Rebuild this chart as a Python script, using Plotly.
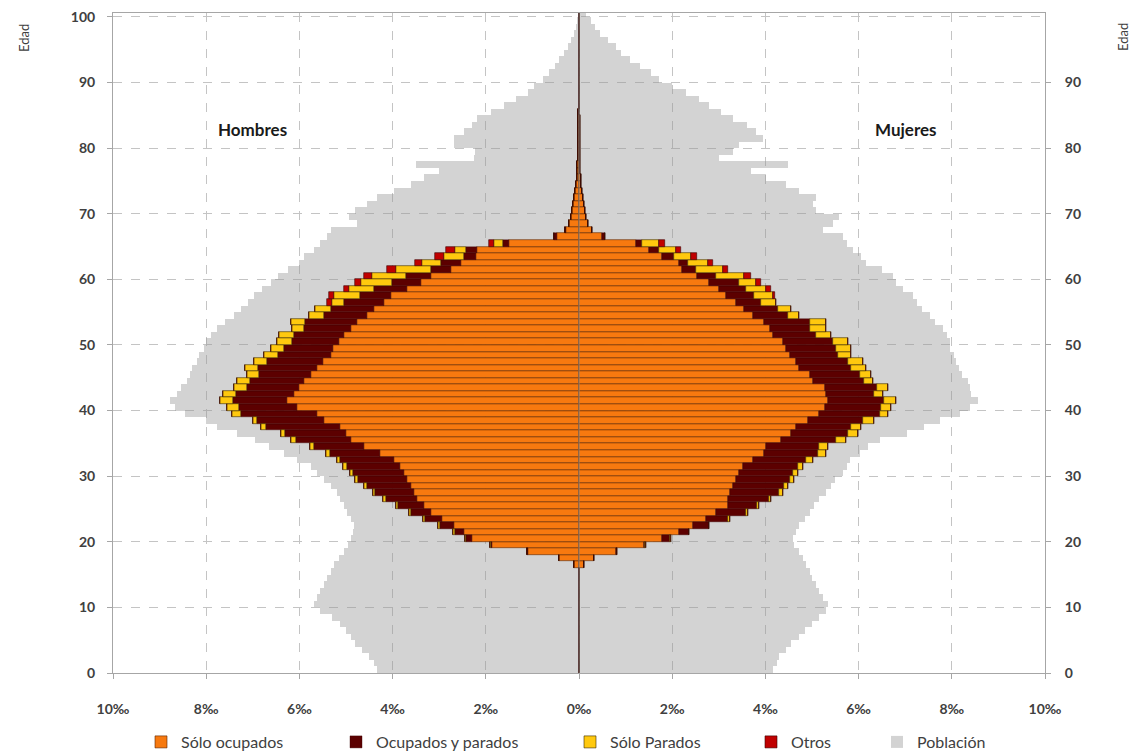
import plotly.graph_objects as go

ages = list(range(0, 101))

# Población (‰) por edad, 0..100
pob_h = [
    4.33, 4.40, 4.50, 4.65, 4.80, 4.90, 5.00, 5.12, 5.30, 5.55,
    5.69, 5.62, 5.55, 5.48, 5.40, 5.33, 5.26, 5.15, 5.05, 4.95,
    4.90, 4.85, 4.83, 4.90, 4.97, 5.05, 5.12, 5.20, 5.33, 5.48,
    5.62, 5.76, 6.05, 6.34, 6.65, 6.95, 7.34, 7.77, 8.00, 8.45,
    8.67, 8.77, 8.63, 8.55, 8.42, 8.35, 8.30, 8.20, 8.15, 8.05,
    8.00, 7.90, 7.77, 7.60, 7.41, 7.25, 7.10, 6.98, 6.80, 6.60,
    6.45, 6.25, 6.00, 5.90, 5.69, 5.55, 5.40, 5.33, 4.76, 4.94,
    4.80, 4.55, 4.33, 3.97, 3.60, 3.33, 3.00, 3.50, 2.25, 2.24,
    2.68, 2.68, 2.47, 2.30, 2.18, 1.89, 1.60, 1.35, 1.10, 0.96,
    0.78, 0.65, 0.52, 0.42, 0.32, 0.24, 0.17, 0.11, 0.07, 0.04,
    0.02]
pob_m = [
    4.16, 4.25, 4.30, 4.45, 4.55, 4.73, 4.85, 5.00, 5.16, 5.30,
    5.34, 5.23, 5.15, 5.09, 5.00, 4.95, 4.87, 4.80, 4.73, 4.62,
    4.59, 4.66, 4.73, 4.85, 4.95, 5.05, 5.16, 5.30, 5.40, 5.50,
    5.66, 5.75, 5.81, 6.02, 6.20, 6.45, 7.03, 7.40, 7.74, 8.17,
    8.39, 8.57, 8.42, 8.38, 8.35, 8.21, 8.15, 8.10, 8.05, 7.96,
    7.96, 7.90, 7.81, 7.65, 7.53, 7.35, 7.25, 7.17, 6.95, 6.80,
    6.74, 6.50, 6.16, 6.05, 5.88, 5.75, 5.66, 5.23, 5.45, 5.59,
    5.09, 5.02, 5.09, 4.73, 4.44, 4.01, 3.69, 4.48, 3.01, 3.30,
    3.44, 3.94, 3.80, 3.60, 3.30, 3.05, 2.80, 2.58, 2.30, 2.00,
    1.72, 1.55, 1.30, 1.10, 0.90, 0.79, 0.62, 0.45, 0.35, 0.25,
    0.14]

# Hombres
ocup_h = [0]*16 + [
    0.11, 0.43, 1.10, 1.86,
    2.29, 2.47, 2.68, 2.95, 3.18, 3.33, 3.47, 3.55, 3.61, 3.70,
    3.76, 3.85, 3.97, 4.26, 4.62, 4.90, 5.00, 5.12, 5.48, 5.62,
    6.05, 6.27, 6.12, 6.00, 5.90, 5.76, 5.62, 5.50, 5.33, 5.28,
    5.15, 5.05, 4.90, 4.76, 4.55, 4.40, 4.19, 4.04, 3.69, 3.40,
    3.18, 2.75, 2.54, 2.22, 2.18, 1.50, 0.48, 0.28, 0.22, 0.18,
    0.15, 0.12, 0.10, 0.08, 0.06, 0.05, 0.04, 0.04, 0.03, 0.03,
    0.03, 0.02, 0.02, 0.02, 0.02, 0.02, 0.01, 0.01, 0.01, 0.01,
    0.01, 0.01, 0.01, 0.01, 0.01, 0.01, 0.005, 0.005, 0.005, 0.005,
    0.005]
ocup_par_h = [0]*16 + [
    0.00, 0.01, 0.02, 0.03,
    0.14, 0.20, 0.31, 0.35, 0.42, 0.55, 0.68, 0.82, 0.95, 1.04,
    1.08, 1.13, 1.15, 1.08, 1.06, 1.18, 1.30, 1.60, 1.42, 1.63,
    1.25, 1.15, 1.23, 1.12, 1.16, 1.10, 1.26, 1.20, 1.13, 1.04,
    1.00, 1.07, 1.01, 1.11, 0.93, 0.93, 0.86, 0.65, 0.71, 0.61,
    0.54, 0.43, 0.43, 0.25, 0.25, 0.14, 0.05, 0.02] + [0]*33
solo_par_h = [0]*19 + [
    0.01,
    0.02, 0.03, 0.03, 0.04, 0.04, 0.04, 0.05, 0.05, 0.06, 0.06,
    0.07, 0.08, 0.08, 0.08, 0.10, 0.10, 0.10, 0.10, 0.10, 0.20,
    0.26, 0.28, 0.28, 0.28, 0.28, 0.26, 0.28, 0.28, 0.30, 0.30,
    0.33, 0.32, 0.24, 0.32, 0.32, 0.33, 0.25, 0.56, 0.53, 0.67,
    0.72, 0.75, 0.39, 0.43, 0.23, 0.19] + [0]*35
otros_h = [0]*56 + [
    0.10, 0.12, 0.12, 0.12,
    0.18, 0.18, 0.15, 0.18, 0.20, 0.10] + [0]*35

# Mujeres
ocup_m = [0]*16 + [
    0.11, 0.32, 0.79, 1.40,
    1.79, 2.15, 2.44, 2.72, 2.94, 3.19, 3.19, 3.23, 3.30, 3.37,
    3.44, 3.51, 3.73, 3.98, 4.01, 4.34, 4.55, 4.66, 4.91, 5.16,
    5.27, 5.34, 5.30, 5.27, 5.02, 4.95, 4.73, 4.66, 4.52, 4.44,
    4.37, 4.16, 4.09, 3.98, 3.73, 3.55, 3.37, 3.15, 3.01, 2.80,
    2.54, 2.22, 2.15, 1.79, 1.51, 1.22, 0.50, 0.28, 0.20, 0.16,
    0.12, 0.10, 0.08, 0.06, 0.05, 0.04, 0.03, 0.03, 0.03, 0.03,
    0.02, 0.02, 0.02, 0.02, 0.02, 0.01, 0.01, 0.01, 0.01, 0.01,
    0.01, 0.01, 0.01, 0.01, 0.01, 0.01, 0.005, 0.005, 0.005, 0.005,
    0.005]
ocup_par_m = [0]*16 + [
    0.00, 0.01, 0.03, 0.02,
    0.17, 0.21, 0.34, 0.48, 0.64, 0.64, 0.88, 1.07, 1.10, 1.15,
    1.16, 1.19, 1.14, 1.14, 1.15, 1.18, 1.22, 1.18, 1.19, 1.29,
    1.21, 1.21, 1.04, 1.13, 1.10, 1.07, 1.11, 1.11, 1.03, 1.08,
    1.08, 0.93, 0.86, 0.97, 0.75, 0.72, 0.54, 0.61, 0.57, 0.64,
    0.40, 0.29, 0.18, 0.25, 0.21, 0.14, 0.05] + [0]*34
solo_par_m = [0]*19 + [
    0.01,
    0.01, 0.01, 0.02, 0.03, 0.04, 0.04, 0.05, 0.07, 0.08, 0.10,
    0.10, 0.10, 0.15, 0.18, 0.18, 0.21, 0.22, 0.22, 0.24, 0.18,
    0.22, 0.26, 0.18, 0.23, 0.19, 0.25, 0.32, 0.32, 0.29, 0.32,
    0.32, 0.32, 0.35, 0.35, 0.25, 0.28, 0.32, 0.40, 0.43, 0.36,
    0.61, 0.57, 0.43, 0.36, 0.36, 0.36] + [0]*35
otros_m = [0]*57 + [
    0.05, 0.11, 0.11,
    0.14, 0.11, 0.11, 0.14, 0.11, 0.13] + [0]*35

for arr in (pob_h, pob_m, ocup_h, ocup_par_h, solo_par_h, otros_h,
            ocup_m, ocup_par_m, solo_par_m, otros_m):
    assert len(arr) == 101, len(arr)

x_ticks = [-10, -8, -6, -4, -2, 0, 2, 4, 6, 8, 10]
x_labels = ["10‰", "8‰", "6‰", "4‰", "2‰", "0‰", "2‰", "4‰", "6‰", "8‰", "10‰"]
y_ticks_left = list(range(0, 101, 10))
y_ticks_right = list(range(0, 91, 10))

series = [
    ("Sólo ocupados", ocup_h, ocup_m, "#F7790F", "#5a2400", 0.6),
    ("Ocupados y parados", ocup_par_h, ocup_par_m, "#5C0000", "#3a0000", 0.4),
    ("Sólo Parados", solo_par_h, solo_par_m, "#FFC90E", "#3a2a00", 0.6),
    ("Otros", otros_h, otros_m, "#C00000", "#3a0000", 0.6),
]

# plot-area geometry (pixels)
W, H = 1134, 754
L, R, T, B = 113, 1045, 13, 673
PW, PH = R - L, B - T

ypos = [a + 0.5 for a in ages]
fig = go.Figure()

# Población (detrás)
for k, (vals, sign) in enumerate(((pob_h, -1), (pob_m, 1))):
    fig.add_trace(go.Bar(
        y=ypos, x=[sign * v for v in vals], orientation="h", width=1,
        marker=dict(color="rgba(150,150,150,0.42)", line=dict(width=0)),
        name="Población", legendgroup="pob", showlegend=(k == 0),
        legend="legend5", hoverinfo="skip"))

legend_ids = ["legend", "legend2", "legend3", "legend4"]
cum_h = [0.0]*101
cum_m = [0.0]*101
for i, (name, vh, vm, col, lcol, lw) in enumerate(series):
    fig.add_trace(go.Bar(
        y=ypos, x=[-v for v in vh], base=[-c for c in cum_h],
        orientation="h", width=1,
        marker=dict(color=col, line=dict(color=lcol, width=lw)),
        name=name, legendgroup=name, showlegend=True,
        legend=legend_ids[i], hoverinfo="skip"))
    fig.add_trace(go.Bar(
        y=ypos, x=list(vm), base=list(cum_m),
        orientation="h", width=1,
        marker=dict(color=col, line=dict(color=lcol, width=lw)),
        name=name, legendgroup=name, showlegend=False,
        legend=legend_ids[i], hoverinfo="skip"))
    cum_h = [c + v for c, v in zip(cum_h, vh)]
    cum_m = [c + v for c, v in zip(cum_m, vm)]

# invisible trace so that the right axis is drawn
fig.add_trace(go.Scatter(x=[0], y=[0], yaxis="y2", mode="markers",
                         marker=dict(opacity=0), showlegend=False,
                         hoverinfo="skip"))

FONT = "Lato, 'Open Sans', Arial, sans-serif"
tickfont = dict(family=FONT, size=14, color="#404040", weight="bold")
axis_common = dict(showline=True, linecolor="#a6a6a6", linewidth=1,
                   ticks="outside", ticklen=5, tickcolor="#a6a6a6",
                   tickfont=tickfont, zeroline=False, automargin=False)

fig.update_layout(
    width=W, height=H,
    margin=dict(l=L, r=W - R, t=T, b=H - B, autoexpand=False),
    paper_bgcolor="white", plot_bgcolor="white",
    barmode="overlay", bargap=0,
    font=dict(family=FONT, color="#404040"),
    xaxis=dict(range=[-10, 10], tickvals=x_ticks, ticktext=x_labels,
               showgrid=True, gridcolor="#c4c4c4", griddash="dash",
               gridwidth=1, mirror=True, ticklabelstandoff=18,
               **axis_common),
    yaxis=dict(range=[0, 100.6], tickvals=y_ticks_left,
               showgrid=True, gridcolor="#c4c4c4", griddash="dash",
               gridwidth=1, mirror=True, ticklabelstandoff=9,
               **axis_common),
    yaxis2=dict(range=[0, 100.6], tickvals=y_ticks_right, overlaying="y",
                side="right", showgrid=False, ticklabelstandoff=11,
                **axis_common),
    shapes=[dict(type="line", xref="x", yref="y", x0=0, x1=0, y0=0,
                 y1=100.6, line=dict(color="rgba(140,140,140,0.9)", width=1),
                 layer="above")],
    annotations=[
        dict(text="<b>Hombres</b>", x=(252 - 578) / 46.5, y=82.8,
             xref="x", yref="y", xanchor="center", yanchor="middle",
             showarrow=False, font=dict(family=FONT, size=17, color="#1a1a1a")),
        dict(text="<b>Mujeres</b>", x=(904 - 578) / 46.5, y=82.8,
             xref="x", yref="y", xanchor="center", yanchor="middle",
             showarrow=False, font=dict(family=FONT, size=17, color="#1a1a1a")),
        dict(text="Edad", x=(24 - L) / PW, y=(B - 38) / PH,
             xref="paper", yref="paper", xanchor="center", yanchor="middle",
             showarrow=False, textangle=-90,
             font=dict(family=FONT, size=13, color="#404040")),
        dict(text="Edad", x=(1123 - L) / PW, y=(B - 37) / PH,
             xref="paper", yref="paper", xanchor="center", yanchor="middle",
             showarrow=False, textangle=-90,
             font=dict(family=FONT, size=13, color="#404040")),
    ],
)

text_starts = [181, 376, 610, 791, 917]
legend_keys = ["legend", "legend2", "legend3", "legend4", "legend5"]
for key, ts in zip(legend_keys, text_starts):
    fig.layout[key] = dict(
        xref="container", yref="container",
        x=(ts - 40) / W, y=1 - 725 / H,
        xanchor="left", yanchor="top",
        orientation="h", bgcolor="rgba(0,0,0,0)", borderwidth=0,
        font=dict(family=FONT, size=16, color="#404040"),
        itemclick=False, itemdoubleclick=False)

fig.write_html(
    "out.html",
    config={"displayModeBar": False},
    post_script="document.body.style.margin='0px';"
                "document.body.style.padding='0px';"
                "document.body.style.overflow='hidden';")
